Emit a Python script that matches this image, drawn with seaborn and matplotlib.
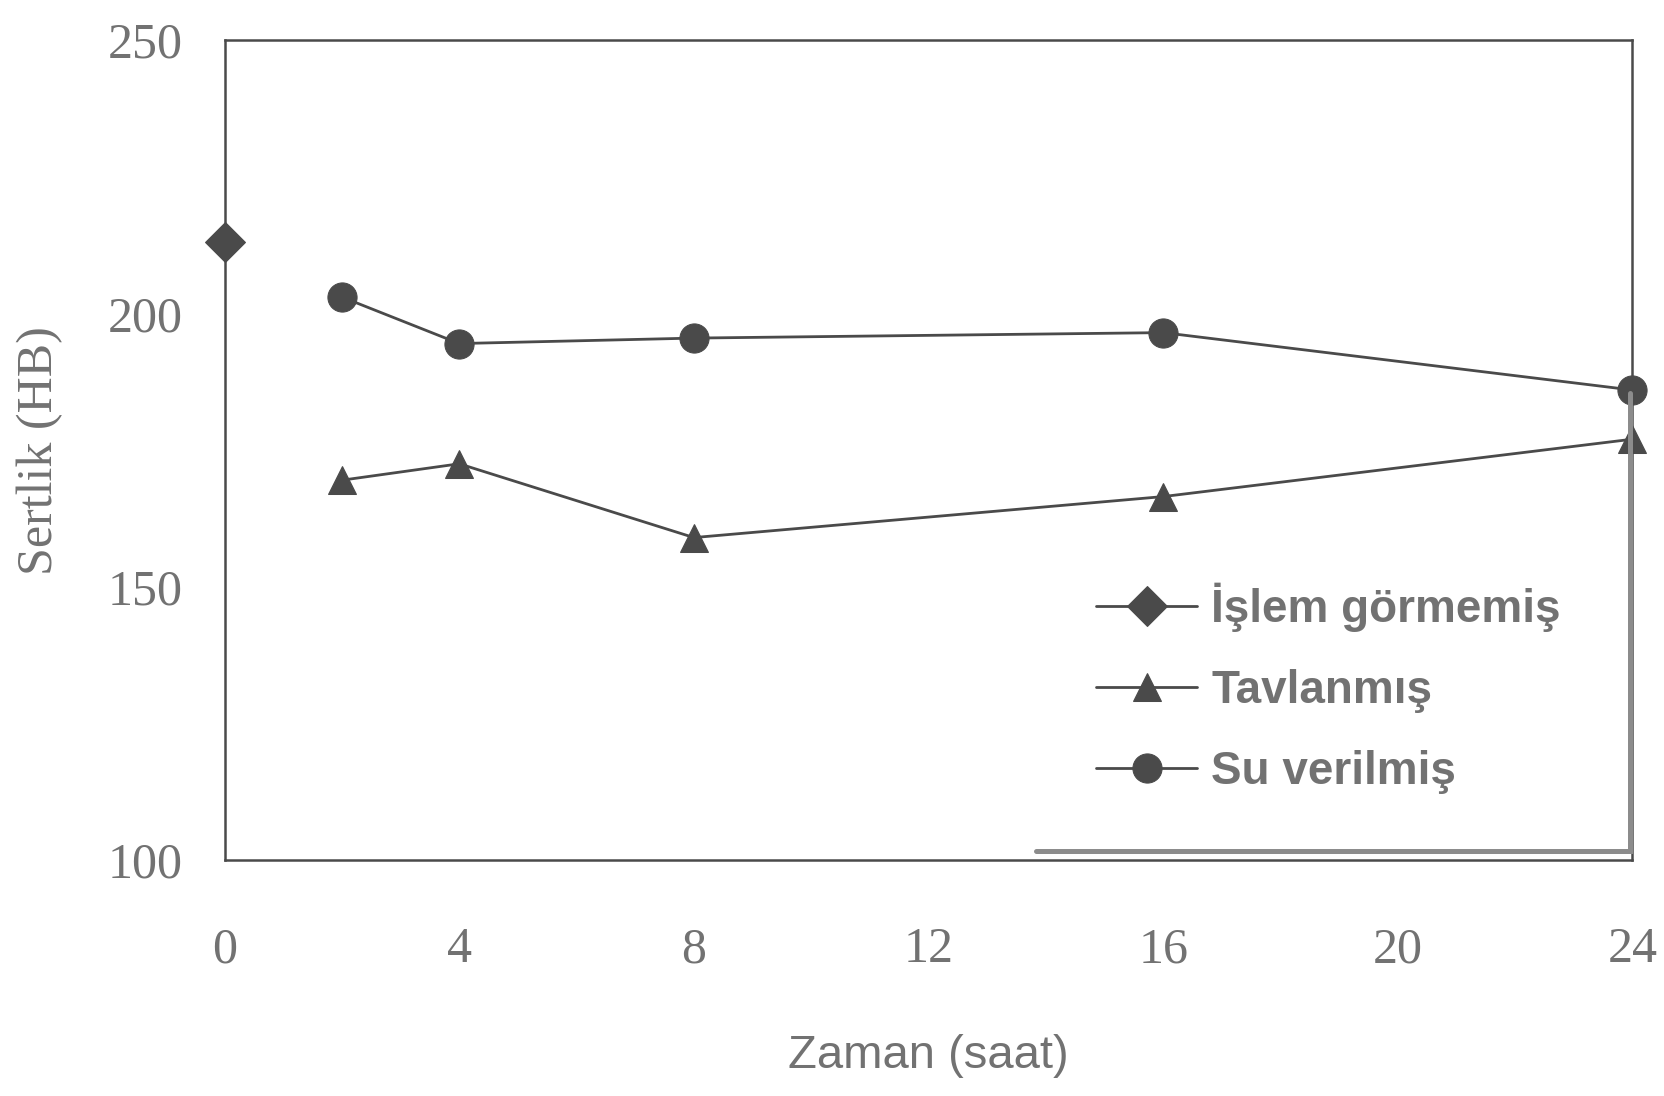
import matplotlib
matplotlib.use("Agg")
import matplotlib.pyplot as plt
import seaborn as sns
import pandas as pd

# Hardness (HB) versus time (hours)
islem_x = [0]
islem_y = [213]
tavlanmis_x = [2, 4, 8, 16, 24]
tavlanmis_y = [169.5, 172.5, 159, 166.5, 177]
su_x = [2, 4, 8, 16, 24]
su_y = [203, 194.5, 195.5, 196.5, 186]

labels = ["İşlem görmemiş", "Tavlanmış", "Su verilmiş"]
x_ticks = [0, 4, 8, 12, 16, 20, 24]
y_ticks = [100, 150, 200, 250]

sns.set_theme(style="white")
plt.rcParams["font.family"] = ["Liberation Sans", "DejaVu Sans"]

TXT = "#727272"
INK = "#4a4a4a"

fig = plt.figure(figsize=(16.64, 10.96), dpi=100)
ax = fig.add_axes([0.135, 0.2153, 0.846, 0.748])

series = [
    (islem_x, islem_y, "D", 20),
    (tavlanmis_x, tavlanmis_y, "^", 20),
    (su_x, su_y, "o", 21),
]
for (xs, ys, mk, ms), lab in zip(series, labels):
    df = pd.DataFrame({"x": xs, "y": ys})
    sns.lineplot(data=df, x="x", y="y", ax=ax, color=INK, linewidth=2,
                 marker=mk, markersize=ms, markeredgecolor=INK,
                 markerfacecolor=INK, label=lab, clip_on=False, zorder=5)

ax.set_xlim(0, 24)
ax.set_ylim(100, 250)
ax.set_xticks(x_ticks)
ax.set_yticks(y_ticks)
ax.tick_params(axis="both", direction="in", length=8, width=1.5, color=INK,
               labelcolor=TXT, labelsize=36)
ax.tick_params(axis="x", pad=48)
ax.tick_params(axis="y", pad=30)
for t in ax.get_xticklabels() + ax.get_yticklabels():
    t.set_fontfamily(["Liberation Serif", "DejaVu Serif"])

for s in ax.spines.values():
    s.set_color(INK)
    s.set_linewidth(1.8)

ax.set_xlabel("Zaman (saat)", fontsize=34, color=TXT, labelpad=44)
ax.set_ylabel("Sertlik (HB)", fontsize=36, color=TXT, labelpad=32,
              fontfamily=["Liberation Serif", "DejaVu Serif"])

# Legend: grey L-shaped edge on its right and bottom sides
ax.plot([0.576, 0.998, 0.998], [0.011, 0.011, 0.57], transform=ax.transAxes,
        color="#8c8c8c", linewidth=3.6, clip_on=False, zorder=6,
        solid_joinstyle="miter")

leg = ax.legend(loc="upper left", bbox_to_anchor=(0.603, 0.366),
                frameon=False, fontsize=33, handlelength=2.2,
                handletextpad=0.3, labelspacing=0.8, borderpad=0)
for t in leg.get_texts():
    t.set_color(TXT)
    t.set_fontweight("bold")

fig.savefig("out.png", dpi=100, facecolor="white")
